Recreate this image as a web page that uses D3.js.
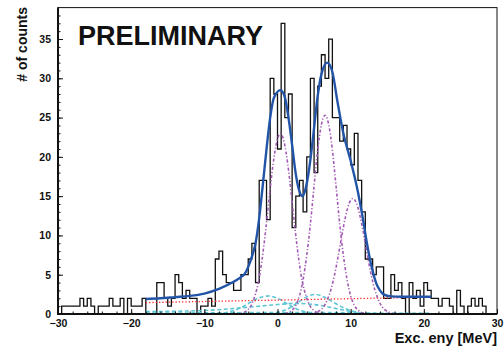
<!DOCTYPE html>
<html>
<head>
<meta charset="utf-8">
<script src="https://cdn.jsdelivr.net/npm/d3@7"></script>
<style>
  body { margin: 0; background: #fff; }
  svg text { font-family: "Liberation Sans", Arial, Helvetica, sans-serif; font-weight: bold; fill: #111; }
</style>
</head>
<body>
<div id="chart"></div>
<script>
// histogram: 120 bins of 0.5 MeV from -30 to 30
const binLow = -30, binWidth = 0.5;
const counts = [
  0,1,1,1,1,1,2,1,2,1, 0,1,1,1,2,1,1,2,0,2,
  1,1,1,2,0,0,0,4,4,2, 1,2,5,4,2,3,2,2,0,1,
  1,2,1,7,8,5,4,4,3,3, 5,5,7,9,4,17,17,12,30,28,
  21,37,25,28,11,15,17,13,20,30, 18,29,33,30,35,25,25,22,24,21,
  19,23,17,13,7,7,5,6,6,2, 2,5,3,4,2,0,4,2,3,1,
  4,3,2,2,1,2,2,1,0,3, 1,0,1,2,1,2,1,0,0,0
];

const xTicks = [-30, -20, -10, 0, 10, 20, 30];
const yTicks = [0, 5, 10, 15, 20, 25, 30, 35];

// fit curves, [MeV, counts]
const fitTotal = [[-18,1.9],[-16,2.0],[-14,2.15],[-12,2.3],[-10,2.6],[-8,3.2],[-6,4.1],[-5,4.7],[-4.5,5.1],
  [-4,6],[-3.5,7.3],[-3,9],[-2.5,12.2],[-2,16.5],[-1.5,21],[-1,25],[-0.5,27.5],[0.4,28.5],[1,27.6],
  [1.5,25],[2,21.5],[2.5,17.8],[3,15.6],[3.4,15],[3.8,15.8],[4.3,18.3],[4.8,22],[5.5,27.8],[6,30.5],
  [6.8,32],[7.5,30.8],[8.2,27],[9,23],[10,19.5],[11,15.5],[11.6,12.5],[12.3,8.6],[13,5.5],[13.5,3.9],
  [14,3],[14.5,2.5],[15.5,2.25],[17,2.2],[21,2.2]];
const background = [[-18,1.45],[21,2.15]];
const peakLeft = [[-18,0],[-5.6,0],[-4.6,0.2],[-4.1,0.5],[-3.6,1.1],[-3.1,2.3],[-2.6,4.1],[-2.1,7],
  [-1.6,10.8],[-1.1,15.1],[-0.6,19.1],[-0.1,21.9],[0.4,23],[0.9,21.9],[1.4,19.1],[1.9,15.1],[2.4,10.8],
  [2.9,7],[3.4,4.1],[3.9,2.3],[4.4,1.1],[4.9,0.5],[5.4,0.2],[6.4,0],[21,0]];
const peakRight = [[-18,0],[0.5,0],[1.5,0.2],[2,0.5],[2.5,1.1],[3,2.3],[3.5,4.4],[4,7.5],[4.5,11.5],
  [5,16.3],[5.5,20.9],[6,24.1],[6.5,25.3],[7,24.1],[7.5,20.9],[8,16.3],[8.5,11.5],[9,7.5],[9.5,4.4],
  [10,2.3],[10.5,1.1],[11,0.5],[11.5,0.2],[12.5,0],[21,0]];
const peakSmall = [[-18,0],[4.3,0],[5.3,0.2],[5.8,0.45],[6.3,0.9],[6.8,1.8],[7.3,3.1],[7.8,5],[8.3,7.4],
  [8.8,10],[9.3,12.4],[9.8,14.1],[10.3,14.7],[10.8,14.1],[11.3,12.4],[11.8,10],[12.3,7.4],[12.8,5],
  [13.3,3.1],[13.8,1.8],[14.3,0.9],[14.8,0.45],[15.3,0.2],[16.3,0],[21,0]];
const cyanA = [[-18,0],[-9,0],[-7,0.2],[-5,0.8],[-3.5,1.6],[-2,2.2],[-1.2,2.3],[0,2.0],[1.5,1.2],
  [3,0.5],[4.5,0.15],[6,0],[21,0]];
const cyanB = [[-18,0],[-1.5,0],[0,0.2],[1.5,0.7],[3,1.6],[4.5,2.4],[5.2,2.5],[6.5,2.1],[8,1.3],
  [9.5,0.6],[11,0.2],[12.5,0],[21,0]];
const cyanC = [[-18,0.3],[-14,0.35],[-10,0.45],[-6,0.7],[-3,0.95],[0,1.2],[2.5,1.35],[5,1.2],[7,0.9],
  [9,0.5],[11,0.2],[13,0.08],[21,0.05]];
const cyanD = [[-18,0.12],[-8,0.15],[0,0.2],[6,0.2],[12,0.1],[21,0.08]];

const W = 504, H = 349;
const x = d3.scaleLinear().domain([-30, 30]).range([58, 497]);
const y = d3.scaleLinear().domain([0, 39]).range([314, 7.6]);

const svg = d3.select('#chart').append('svg')
  .attr('width', W).attr('height', H);

// histogram outline
const steps = counts.map((c, i) => [binLow + i * binWidth, c]);
steps.push([binLow + counts.length * binWidth, counts[counts.length - 1]]);
svg.append('path')
  .datum(steps)
  .attr('fill', 'none')
  .attr('stroke', '#111')
  .attr('stroke-width', 1.3)
  .attr('d', d3.line().curve(d3.curveStepAfter).x(d => x(d[0])).y(d => y(d[1])));

const curve = d3.line().curve(d3.curveMonotoneX).x(d => x(d[0])).y(d => y(d[1]));

function drawCurve(data, color, w, dash) {
  svg.append('path')
    .datum(data)
    .attr('fill', 'none')
    .attr('stroke', color)
    .attr('stroke-width', w)
    .attr('stroke-dasharray', dash)
    .attr('d', curve);
}

[cyanD, cyanC, cyanA, cyanB].forEach(c => drawCurve(c, '#5cc6d2', 1.6, '4,2.5'));
drawCurve(background, '#ff2a2a', 1.3, '1.3,2');
[peakLeft, peakRight, peakSmall].forEach(c => drawCurve(c, '#a25ab4', 1.6, '3,2,1.2,2'));
drawCurve(fitTotal, '#2254a8', 2.4, null);

// frame
svg.append('rect')
  .attr('x', x(-30)).attr('y', y(39))
  .attr('width', x(30) - x(-30)).attr('height', y(0) - y(39))
  .attr('fill', 'none').attr('stroke', '#111').attr('stroke-width', 1);

// y axis
svg.append('g').attr('transform', `translate(${x(-30)},0)`)
  .call(d3.axisLeft(y).tickValues(yTicks).tickSize(-5).tickPadding(7));
svg.append('g').attr('transform', `translate(${x(-30)},0)`)
  .call(d3.axisLeft(y).tickValues(d3.range(0, 39)).tickSize(-2.5).tickFormat(''));

// x axis
svg.append('g').attr('transform', `translate(0,${y(0)})`)
  .call(d3.axisBottom(x).tickValues(xTicks).tickSize(-5).tickPadding(6));
svg.append('g').attr('transform', `translate(0,${y(0)})`)
  .call(d3.axisBottom(x).tickValues(d3.range(-30, 31, 2)).tickSize(-2.5).tickFormat(''));

svg.selectAll('.domain').remove();
svg.selectAll('.tick line').attr('stroke', '#111');
svg.selectAll('.tick text').style('font-size', '10.5px');

svg.append('line').attr('x1', x(-30)).attr('x2', x(-30)).attr('y1', y(39)).attr('y2', y(0) + 1)
  .attr('stroke', '#111').attr('stroke-width', 2);
svg.append('line').attr('x1', x(-30) - 1).attr('x2', x(30)).attr('y1', y(0)).attr('y2', y(0))
  .attr('stroke', '#111').attr('stroke-width', 2);

// titles
svg.append('text')
  .attr('transform', 'translate(26.5,7) rotate(-90)')
  .attr('text-anchor', 'end')
  .style('font-size', '14px')
  .text('# of counts');
svg.append('text')
  .attr('x', 497).attr('y', 343)
  .attr('text-anchor', 'end')
  .style('font-size', '14.5px')
  .text('Exc. eny [MeV]');
svg.append('text')
  .attr('x', 78).attr('y', 45)
  .style('font-size', '27px')
  .text('PRELIMINARY');
</script>
</body>
</html>
